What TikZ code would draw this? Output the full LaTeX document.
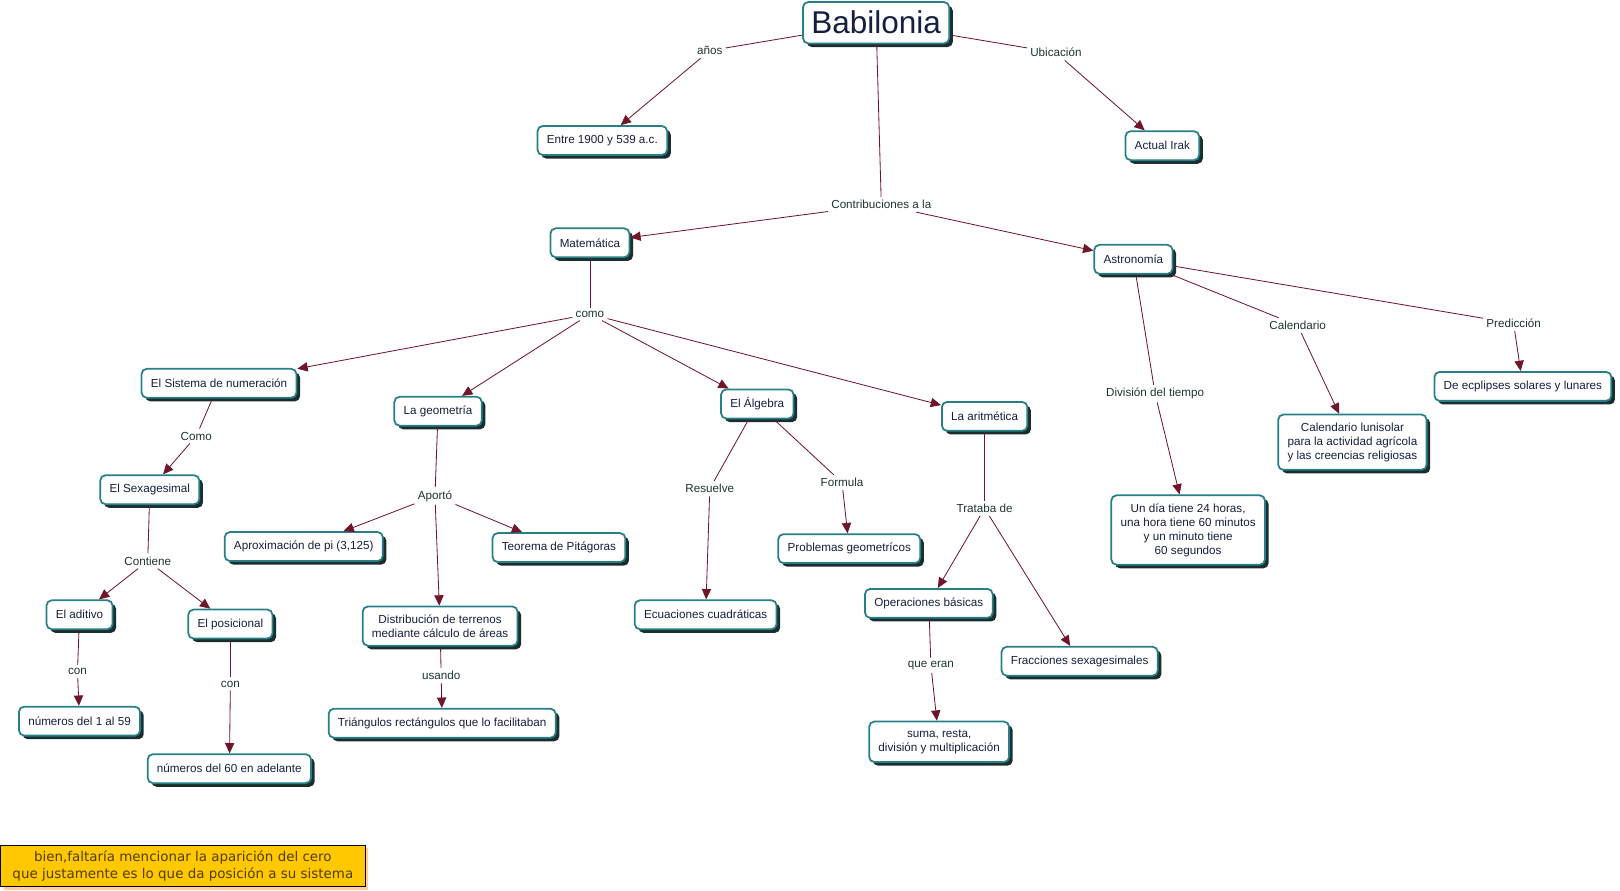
\documentclass[tikz,border=0pt]{standalone}
\usepackage{fontspec}
\setmainfont{Liberation Sans}
\newfontfamily\notefont{DejaVu Sans}
\usetikzlibrary{arrows.meta,shadows}

\definecolor{boxteal}{RGB}{38,128,133}
\definecolor{boxshadow}{RGB}{28,45,48}
\definecolor{boxtext}{RGB}{22,32,62}
\definecolor{linktext}{RGB}{30,52,52}
\definecolor{linkline}{RGB}{112,22,42}
\definecolor{notegold}{RGB}{255,200,0}
\definecolor{noteshadow}{RGB}{255,205,160}
\definecolor{notetext}{RGB}{80,62,0}

\tikzset{
  concept/.style={draw=boxteal, line width=1.7pt, fill=white, rounded corners=5pt,
    text=boxtext, font=\fontsize{11.3}{13.5}\selectfont, align=center,
    inner xsep=9pt, inner ysep=8pt, minimum height=28pt,
    drop shadow={shadow xshift=3.5pt, shadow yshift=-3.5pt, fill=boxshadow, opacity=1}},
  linkword/.style={text=linktext, font=\fontsize{11.3}{13.5}\selectfont, inner sep=3pt},
  conn/.style={draw=linkline, line width=0.8pt},
  arr/.style={conn, -{Triangle[length=10pt,width=9pt]}}
}

\begin{document}
\begin{tikzpicture}[x=1pt, y=-1pt]
  \useasboundingbox (0,0) rectangle (1568,862);

  % top
  \node[concept, font=\fontsize{30.5}{34}\selectfont, inner xsep=8pt, minimum height=40pt] (bab) at (848, 22) {Babilonia};
  \node[linkword] (anos) at (687, 49) {años};
  \node[linkword] (ubic) at (1022, 51) {Ubicación};
  \node[concept] (entre) at (583, 136) {Entre 1900 y 539 a.c.};
  \node[concept] (irak) at (1125, 141) {Actual Irak};
  \node[linkword] (contrib) at (853, 198) {Contribuciones a la};

  \node[concept] (mate) at (571, 235) {Matemática};
  \node[concept] (astro) at (1097, 251) {Astronomía};

  % matematica
  \node[linkword] (como) at (571, 304) {como};
  \node[concept] (sist) at (212, 371) {El Sistema de numeración};
  \node[concept] (geom) at (424, 398) {La geometría};
  \node[concept] (alg) at (733, 391) {El Álgebra};
  \node[concept] (arit) at (953, 403) {La aritmética};

  \node[linkword] (como2) at (190, 422) {Como};
  \node[concept] (sexa) at (145, 474) {El Sexagesimal};
  \node[linkword] (cont) at (143, 543) {Contiene};
  \node[concept] (adit) at (77, 595) {El aditivo};
  \node[concept] (posi) at (223, 604) {El posicional};
  \node[linkword] (con1) at (75, 650) {con};
  \node[linkword] (con2) at (223, 662) {con};
  \node[concept] (n1) at (77, 698) {números del 1 al 59};
  \node[concept] (n60) at (222, 744) {números del 60 en adelante};

  \node[linkword] (aporto) at (421, 480) {Aportó};
  \node[concept] (pi) at (294, 529) {Aproximación de pi (3,125)};
  \node[concept] (pita) at (541, 530) {Teorema de Pitágoras};
  \node[concept] (dist) at (426, 606) {Distribución de terrenos\\mediante cálculo de áreas};
  \node[linkword] (usando) at (427, 654) {usando};
  \node[concept] (tri) at (428, 700) {Triángulos rectángulos que lo facilitaban};

  \node[linkword] (resu) at (687, 473) {Resuelve};
  \node[linkword] (form) at (815, 467) {Formula};
  \node[concept] (ecua) at (683, 595) {Ecuaciones cuadráticas};
  \node[concept] (prob) at (822, 531) {Problemas geometrícos};

  \node[linkword] (trat) at (953, 492) {Trataba de};
  \node[concept] (oper) at (899, 584) {Operaciones básicas};
  \node[concept] (frac) at (1045, 640) {Fracciones sexagesimales};
  \node[linkword] (eran) at (901, 644) {que eran};
  \node[concept] (suma) at (909, 718) {suma, resta,\\división y multiplicación};

  % astronomia
  \node[linkword] (divi) at (1118, 381) {División del tiempo};
  \node[linkword] (cale) at (1256, 315) {Calendario};
  \node[linkword] (pred) at (1465, 313) {Predicción};
  \node[concept] (dia) at (1150, 513) {Un día tiene 24 horas,\\una hora tiene 60 minutos\\y un minuto tiene\\60 segundos};
  \node[concept] (luni) at (1309, 428) {Calendario lunisolar\\para la actividad agrícola\\y las creencias religiosas};
  \node[concept] (ecli) at (1474, 374) {De ecplipses solares y lunares};

  % note
  \node[draw=black, line width=0.8pt, fill=notegold, text=notetext, align=center,
    font=\notefont\fontsize{13}{16}\selectfont, minimum width=353pt, minimum height=40pt, inner sep=2pt,
    drop shadow={shadow xshift=3pt, shadow yshift=-3pt, fill=noteshadow, opacity=1}]
    (nota) at (177, 838) {bien,faltaría mencionar la aparición del cero\\que justamente es lo que da posición a su sistema};

  \draw[conn] (bab) -- (anos);
  \draw[arr] (anos) -- (entre);
  \draw[conn] (bab) -- (ubic);
  \draw[arr] (ubic) -- (irak);
  \draw[conn] (bab) -- (contrib);
  \draw[arr] (contrib) -- (mate);
  \draw[arr] (contrib) -- (astro);

  \draw[conn] (mate) -- (como);
  \draw[arr] (como) -- (sist);
  \draw[arr] (como) -- (geom);
  \draw[arr] (como) -- (alg);
  \draw[arr] (como) -- (arit);

  \draw[conn] (sist) -- (como2);
  \draw[arr] (como2) -- (sexa);
  \draw[conn] (sexa) -- (cont);
  \draw[arr] (cont) -- (adit);
  \draw[arr] (cont) -- (posi);
  \draw[conn] (adit) -- (con1);
  \draw[arr] (con1) -- (n1);
  \draw[conn] (posi) -- (con2);
  \draw[arr] (con2) -- (n60);

  \draw[conn] (geom) -- (aporto);
  \draw[arr] (aporto) -- (pi);
  \draw[arr] (aporto) -- (pita);
  \draw[arr] (aporto) -- (dist);
  \draw[conn] (dist) -- (usando);
  \draw[arr] (usando) -- (tri);

  \draw[conn] (alg) -- (resu);
  \draw[arr] (resu) -- (ecua);
  \draw[conn] (alg) -- (form);
  \draw[arr] (form) -- (prob);

  \draw[conn] (arit) -- (trat);
  \draw[arr] (trat) -- (oper);
  \draw[arr] (trat) -- (frac);
  \draw[conn] (oper) -- (eran);
  \draw[arr] (eran) -- (suma);

  \draw[conn] (astro) -- (divi);
  \draw[arr] (divi) -- (dia);
  \draw[conn] (astro) -- (cale);
  \draw[arr] (cale) -- (luni);
  \draw[conn] (astro) -- (pred);
  \draw[arr] (pred) -- (ecli);
\end{tikzpicture}
\end{document}
